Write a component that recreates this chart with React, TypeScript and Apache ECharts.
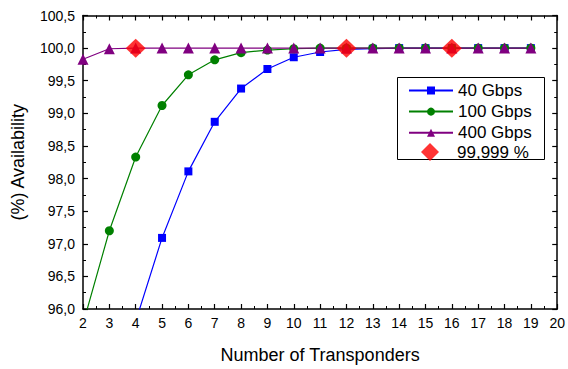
import React, { useEffect, useRef } from "react";
import * as echarts from "echarts";

const transponders = [2, 3, 4, 5, 6, 7, 8, 9, 10, 11, 12, 13, 14, 15, 16, 17, 18, 19];
const gbps40 = [null, null, 95.81, 97.09, 98.11, 98.87, 99.38, 99.68, 99.86, 99.94, 99.98, 99.99, 100, 100, 100, 100, 100, 100];
const gbps100 = [95.77, 97.2, 98.33, 99.12, 99.59, 99.82, 99.93, 99.97, 99.99, 100, 100, 100, 100, 100, 100, 100, 100, 100];
const gbps400 = [99.83, 99.99, 100, 100, 100, 100, 100, 100, 100, 100, 100, 100, 100, 100, 100, 100, 100, 100];
const targetX = [4, 12, 16];
const targetY = [99.999, 99.999, 99.999];

const fmtY = (v: number) => v.toFixed(1).replace(".", ",");

export default function App() {
  const ref = useRef<HTMLDivElement>(null);
  useEffect(() => {
    if (!ref.current) return;
    const chart = echarts.init(ref.current, null, { renderer: "svg" });
    const pair = (ys: (number | null)[]) => transponders.map((x, i) => [x, ys[i]]);
    const font = "Liberation Sans, Arial, sans-serif";
    const tick = { show: true, inside: true, length: 5, lineStyle: { color: "#000", width: 1.2 } };
    const minor = { show: true, splitNumber: 2, length: 3, lineStyle: { color: "#000", width: 1 } };
    const axisBase = {
      type: "value" as const,
      min: 2,
      max: 20,
      interval: 1,
      axisLine: { show: true, lineStyle: { color: "#000", width: 1.5 } },
      axisTick: tick,
      minorTick: minor,
      splitLine: { show: false },
    };
    const yBase = {
      type: "value" as const,
      min: 96,
      max: 100.5,
      interval: 0.5,
      axisLine: { show: true, lineStyle: { color: "#000", width: 1.5 } },
      axisTick: tick,
      minorTick: minor,
      splitLine: { show: false },
    };
    const legendText = { fontFamily: font, fontSize: 17, lineHeight: 14, color: "#000" };
    chart.setOption({
      animation: false,
      grid: { left: 83, right: 8, top: 15.5, bottom: 49, containLabel: false },
      graphic: [
        {
          type: "rect",
          shape: { x: 397.5, y: 77.5, width: 147, height: 82 },
          style: { fill: "#fff", stroke: "#000", lineWidth: 1 },
          z: 50,
        },
      ],
      legend: [
        {
          orient: "vertical",
          left: 408,
          top: 82,
          itemWidth: 44,
          itemHeight: 10,
          itemGap: 4.1,
          padding: 0,
          z: 60,
          textStyle: legendText,
          data: ["40 Gbps", "100 Gbps", "400 Gbps"],
        },
        {
          orient: "vertical",
          left: 421,
          top: 143,
          itemWidth: 44,
          itemHeight: 18,
          padding: 0,
          z: 60,
          textStyle: legendText,
          data: [{ name: "99,999 %", icon: "path://M0 -10 L10 0 L0 10 L-10 0 Z" }],
        },
      ],
      xAxis: [
        {
          ...axisBase,
          position: "bottom",
          axisLabel: { color: "#000", fontFamily: font, fontSize: 14, margin: 7 },
          name: "Number of Transponders",
          nameLocation: "middle",
          nameGap: 37,
          nameTextStyle: { color: "#000", fontFamily: font, fontSize: 18 },
        },
        { ...axisBase, position: "top", axisLabel: { show: false } },
      ],
      yAxis: [
        {
          ...yBase,
          position: "left",
          axisLabel: { color: "#000", fontFamily: font, fontSize: 14, margin: 8, formatter: fmtY },
          name: "(%) Availability",
          nameLocation: "middle",
          nameGap: 56,
          nameTextStyle: { color: "#000", fontFamily: font, fontSize: 18 },
        },
        { ...yBase, position: "right", axisLabel: { show: false } },
      ],
      series: [
        {
          name: "40 Gbps",
          type: "line",
          data: pair(gbps40),
          symbol: "rect",
          symbolSize: 8,
          clip: true,
          itemStyle: { color: "#0000FF" },
          lineStyle: { color: "#0000FF", width: 1.2 },
        },
        {
          name: "100 Gbps",
          type: "line",
          data: pair(gbps100),
          symbol: "circle",
          symbolSize: 9,
          clip: true,
          itemStyle: { color: "#008000" },
          lineStyle: { color: "#008000", width: 1.2 },
        },
        {
          name: "400 Gbps",
          type: "line",
          data: pair(gbps400),
          symbol: "triangle",
          symbolSize: 11,
          clip: true,
          itemStyle: { color: "#800080" },
          lineStyle: { color: "#800080", width: 1.2 },
        },
        {
          name: "99,999 %",
          type: "scatter",
          data: targetX.map((x, i) => [x, targetY[i]]),
          symbol: "diamond",
          symbolSize: [20, 19],
          itemStyle: { color: "#FF0000" },
          z: 10,
        },
      ],
    });
    return () => chart.dispose();
  }, []);
  return <div ref={ref} style={{ position: "absolute", left: 0, top: 0, width: 568, height: 369 }} />;
}
